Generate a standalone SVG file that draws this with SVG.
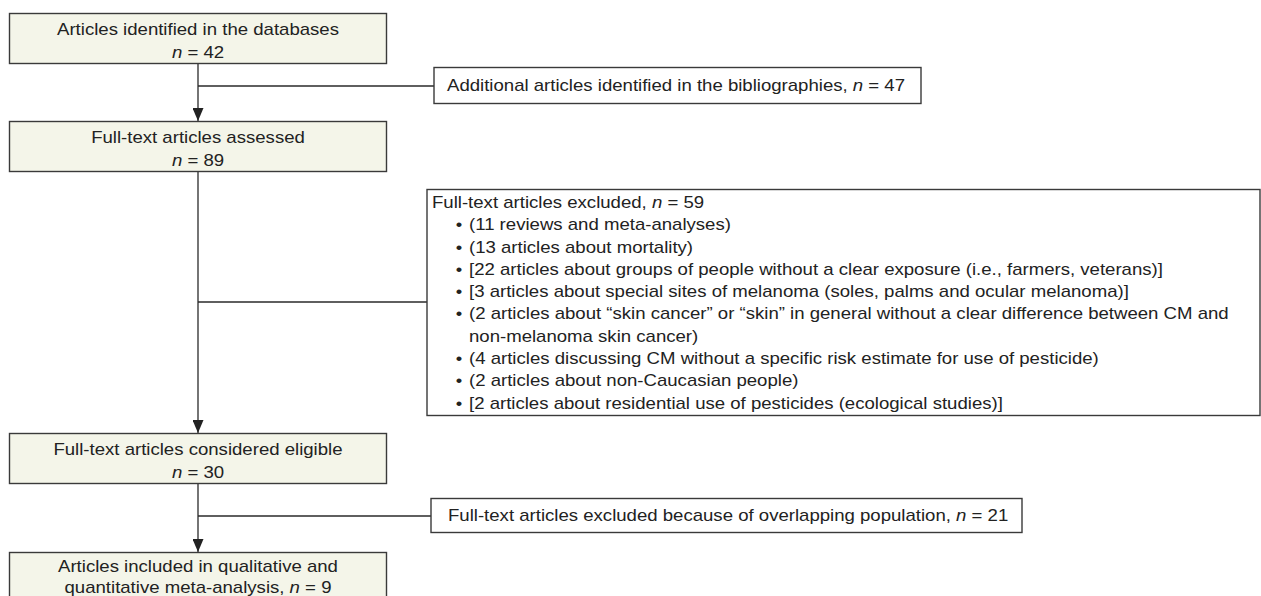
<svg xmlns="http://www.w3.org/2000/svg" width="1261" height="596" viewBox="0 0 1261 596">
  <defs>
    <style>
      .main { fill: #f4f5e9; stroke: #3a3a3a; stroke-width: 1.4; }
      .side { fill: #ffffff; stroke: #3a3a3a; stroke-width: 1.4; }
      .t { font-family: "Liberation Sans", Arial, sans-serif; font-size: 16px; fill: #222222; }
      .c { text-anchor: middle; }
      .i { font-style: italic; }
      .conn { stroke: #2a2a2a; stroke-width: 1.3; fill: none; }
    </style>
    <marker id="arrow" markerUnits="userSpaceOnUse" markerWidth="13" markerHeight="11" refX="13" refY="5.5" orient="auto">
      <path d="M0,0 L13,5.5 L0,11 z" fill="#222222"/>
    </marker>
  </defs>
  <rect width="1261" height="596" fill="#ffffff"/>

  <g id="connectors">
    <line class="conn" x1="198" y1="63" x2="198" y2="121" marker-end="url(#arrow)"/>
    <line class="conn" x1="198" y1="86" x2="434" y2="86"/>
    <line class="conn" x1="198" y1="172" x2="198" y2="433" marker-end="url(#arrow)"/>
    <line class="conn" x1="198" y1="302" x2="427" y2="302"/>
    <line class="conn" x1="198" y1="483" x2="198" y2="552" marker-end="url(#arrow)"/>
    <line class="conn" x1="198" y1="516" x2="431" y2="516"/>
  </g>

  <g id="identified">
    <rect class="main" x="9.5" y="13.5" width="377" height="50"/>
    <text class="t c" transform="scale(1.1625,1)" x="170.32" y="35">Articles identified in the databases</text>
    <text class="t c" transform="scale(1.1625,1)" x="170.32" y="58"><tspan class="i">n</tspan> = 42</text>
  </g>

  <g id="additional">
    <rect class="side" x="434" y="67.5" width="487" height="36"/>
    <text class="t" transform="scale(1.1625,1)" x="384.52" y="91">Additional articles identified in the bibliographies, <tspan class="i">n</tspan> = 47</text>
  </g>

  <g id="assessed">
    <rect class="main" x="9.5" y="121.5" width="377" height="50"/>
    <text class="t c" transform="scale(1.1625,1)" x="170.32" y="143">Full-text articles assessed</text>
    <text class="t c" transform="scale(1.1625,1)" x="170.32" y="166"><tspan class="i">n</tspan> = 89</text>
  </g>

  <g id="excluded">
    <rect class="side" x="427" y="189.5" width="833" height="226"/>
    <text class="t" transform="scale(1.1625,1)" x="371.61" y="208">Full-text articles excluded, <tspan class="i">n</tspan> = 59</text>
    <g class="t" transform="scale(1.1625,1)">
      <text class="c" x="394.84" y="230.3">•</text>
      <text class="c" x="394.84" y="252.6">•</text>
      <text class="c" x="394.84" y="274.9">•</text>
      <text class="c" x="394.84" y="297.2">•</text>
      <text class="c" x="394.84" y="319.5">•</text>
      <text class="c" x="394.84" y="364.1">•</text>
      <text class="c" x="394.84" y="386.4">•</text>
      <text class="c" x="394.84" y="408.7">•</text>
      <text x="403.44" y="230.3">(11 reviews and meta-analyses)</text>
      <text x="403.44" y="252.6">(13 articles about mortality)</text>
      <text x="403.44" y="274.9">[22 articles about groups of people without a clear exposure (i.e., farmers, veterans)]</text>
      <text x="403.44" y="297.2">[3 articles about special sites of melanoma (soles, palms and ocular melanoma)]</text>
      <text x="403.44" y="319.5">(2 articles about “skin cancer” or “skin” in general without a clear difference between CM and</text>
      <text x="403.44" y="341.8">non-melanoma skin cancer)</text>
      <text x="403.44" y="364.1">(4 articles discussing CM without a specific risk estimate for use of pesticide)</text>
      <text x="403.44" y="386.4">(2 articles about non-Caucasian people)</text>
      <text x="403.44" y="408.7">[2 articles about residential use of pesticides (ecological studies)]</text>
    </g>
  </g>

  <g id="eligible">
    <rect class="main" x="9.5" y="433.5" width="377" height="50"/>
    <text class="t c" transform="scale(1.1625,1)" x="170.32" y="455">Full-text articles considered eligible</text>
    <text class="t c" transform="scale(1.1625,1)" x="170.32" y="478"><tspan class="i">n</tspan> = 30</text>
  </g>

  <g id="overlap">
    <rect class="side" x="431" y="498.5" width="591" height="34"/>
    <text class="t" transform="scale(1.1625,1)" x="385.38" y="521">Full-text articles excluded because of overlapping population, <tspan class="i">n</tspan> = 21</text>
  </g>

  <g id="included">
    <rect class="main" x="9.5" y="552.5" width="377" height="50"/>
    <text class="t c" transform="scale(1.1625,1)" x="170.32" y="572">Articles included in qualitative and</text>
    <text class="t c" transform="scale(1.1625,1)" x="170.32" y="593">quantitative meta-analysis, <tspan class="i">n</tspan> = 9</text>
  </g>
</svg>
